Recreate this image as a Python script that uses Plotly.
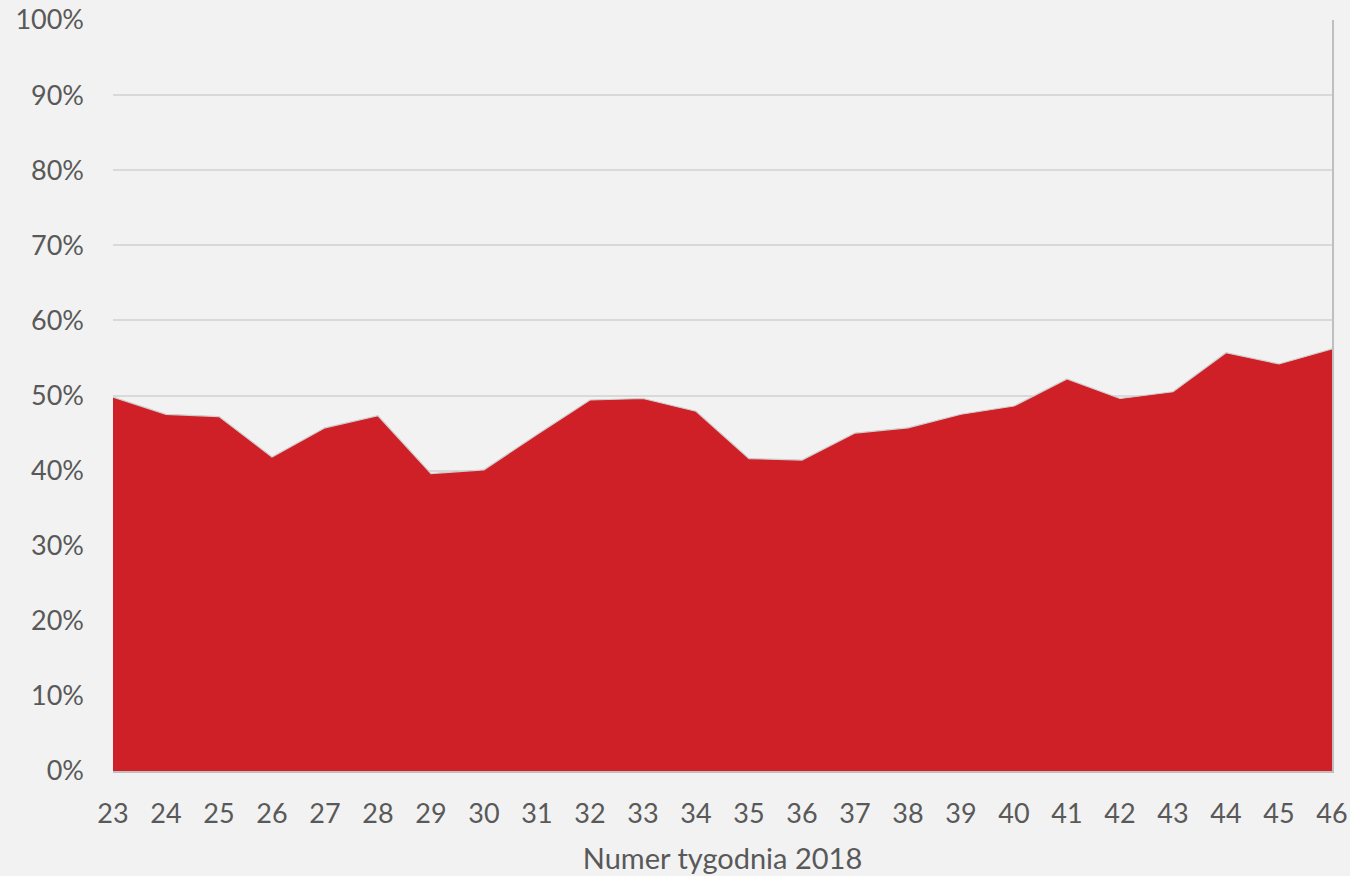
import plotly.graph_objects as go

weeks = list(range(23, 47))
share = [49.8, 47.5, 47.2, 41.8, 45.7, 47.3, 39.6, 40.1, 44.8, 49.4, 49.6, 47.9,
         41.6, 41.4, 45.0, 45.7, 47.5, 48.6, 52.2, 49.6, 50.5, 55.7, 54.2, 56.2]
y_ticks = list(range(0, 101, 10))
y_tick_labels = [f"{v}%" for v in y_ticks]

font_family = "Lato, 'Open Sans', sans-serif"
text_color = "#595959"

fig = go.Figure()
fig.add_trace(go.Scatter(
    x=weeks, y=share, mode="lines", fill="tozeroy",
    line=dict(color="#cfcfcf", width=1.2),
    fillcolor="#d02027", hoverinfo="x+y",
))
# invisible trace on right axis for the right-hand frame line
fig.add_trace(go.Scatter(x=weeks, y=share, yaxis="y2", mode="lines",
                         line=dict(width=0), showlegend=False, hoverinfo="skip"))

fig.update_layout(
    width=1350, height=876,
    paper_bgcolor="#f2f2f2", plot_bgcolor="#f2f2f2",
    margin=dict(l=113, r=18, t=20, b=105),
    showlegend=False,
    font=dict(family=font_family, color=text_color, size=27),
    xaxis=dict(
        range=[23, 46], tickmode="array", tickvals=weeks,
        ticktext=[str(w) for w in weeks],
        showgrid=False, zeroline=False, automargin=False,
        showline=True, linecolor="#bfbfbf", linewidth=1.5,
        ticks="", ticklabelstandoff=18,
        tickfont=dict(size=27, color=text_color),
        title=dict(text="Numer tygodnia 2018", font=dict(size=29, color=text_color), standoff=21),
    ),
    yaxis=dict(
        range=[0, 100], tickmode="array", tickvals=y_ticks, ticktext=y_tick_labels,
        showgrid=True, gridcolor="#d9d9d9", gridwidth=1.5, automargin=False,
        zeroline=False, showline=False, ticks="",
        ticklabelstandoff=28,
        tickfont=dict(size=27, color=text_color),
    ),
    yaxis2=dict(
        range=[0, 100], overlaying="y", side="right", automargin=False,
        showgrid=False, zeroline=False, showticklabels=False,
        showline=True, linecolor="#bfbfbf", linewidth=2, ticks="",
    ),
)

fig.write_html(
    "out.html",
    config={"displayModeBar": False},
    post_script="document.body.style.margin='0';document.body.style.overflow='hidden';",
)
